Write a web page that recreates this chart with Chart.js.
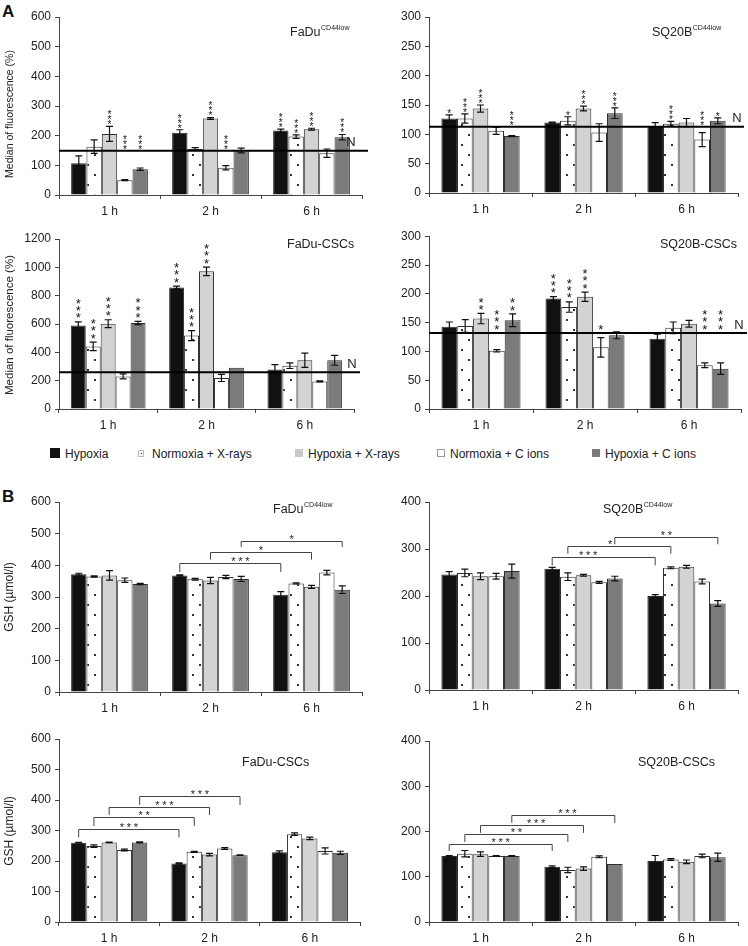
<!DOCTYPE html>
<html><head><meta charset="utf-8">
<script src="https://cdn.jsdelivr.net/npm/chart.js@4/dist/chart.umd.min.js"></script>
<style>
body{margin:0;background:#fff;width:748px;height:946px;position:relative;overflow:hidden;font-family:"Liberation Sans",Arial,Helvetica,sans-serif;color:#222;}
canvas{position:absolute;}
.lbl{position:absolute;font-weight:bold;font-size:17px;line-height:1;color:#111;}
.sw{position:absolute;box-sizing:border-box;}
.lt{position:absolute;font-size:12px;line-height:14px;white-space:nowrap;color:#222;}
</style></head>
<body>
<div class="lbl" style="left:2px;top:3px">A</div>
<div class="lbl" style="left:2px;top:488px">B</div>
<script>
const FONT = '"Liberation Sans", Arial, Helvetica, sans-serif';
Chart.defaults.font.family = FONT;

// ---------- shared ----------
const categories = ['1 h', '2 h', '6 h'];
const seriesNames = ['Hypoxia', 'Normoxia + X-rays', 'Hypoxia + X-rays', 'Normoxia + C ions', 'Hypoxia + C ions'];

// ---------- A : median of fluorescence (%) ----------
// rows follow seriesNames, columns follow categories
const fluoFaDuLow_values = [[107, 210, 217], [163, 155, 197], [206, 258, 222], [50, 92, 141], [87, 150, 195]];
const fluoFaDuLow_errors = [[25, 10, 5], [23, 5, 6], [25, 3, 3], [2, 7, 14], [4, 8, 9]];
const fluoFaDuLow_stars  = [[0, 3, 3], [0, 0, 3], [3, 3, 3], [3, 3, 0], [3, 0, 3]];
const fluoFaDuLow_N = 149;
const fluoFaDuLow_ticks = [0, 100, 200, 300, 400, 500, 600];

const fluoSQ20BLow_values = [[127, 120, 114], [127, 123, 118], [144, 144, 120], [106, 103, 91], [97, 136, 123]];
const fluoSQ20BLow_errors = [[6, 1, 6], [8, 7, 4], [6, 4, 7], [6, 15, 12], [1, 9, 5]];
const fluoSQ20BLow_stars  = [[1, 0, 0], [3, 1, 3], [3, 3, 0], [0, 0, 3], [3, 3, 1]];
const fluoSQ20BLow_N = 113;
const fluoSQ20BLow_ticks = [0, 50, 100, 150, 200, 250, 300];

const fluoFaDuCSC_values = [[590, 858, 278], [442, 518, 306], [602, 972, 344], [230, 219, 195], [607, 292, 344]];
const fluoFaDuCSC_errors = [[25, 10, 35], [30, 35, 20], [28, 30, 50], [18, 25, 4], [12, 0, 35]];
const fluoFaDuCSC_stars  = [[3, 3, 0], [3, 3, 0], [3, 3, 0], [0, 0, 0], [3, 0, 0]];
const fluoFaDuCSC_N = 259;
const fluoFaDuCSC_ticks = [0, 200, 400, 600, 800, 1000, 1200];

const fluoSQ20BCSC_values = [[143, 192, 122], [144, 177, 141], [157, 195, 148], [101, 107, 76], [154, 128, 70]];
const fluoSQ20BCSC_errors = [[8, 3, 8], [11, 9, 10], [9, 8, 6], [2, 17, 4], [11, 6, 10]];
const fluoSQ20BCSC_stars  = [[0, 3, 0], [0, 3, 0], [2, 3, 0], [3, 1, 3], [2, 0, 3]];
const fluoSQ20BCSC_N = 132;
const fluoSQ20BCSC_ticks = [0, 50, 100, 150, 200, 250, 300];

// ---------- B : GSH (µmol/l) ----------
const gshFaDuLow_values = [[372, 368, 307], [365, 356, 343], [368, 352, 332], [353, 363, 377], [341, 357, 323]];
const gshFaDuLow_errors = [[3, 2, 10], [2, 3, 2], [15, 10, 5], [7, 5, 7], [2, 8, 12]];
const gshFaDuLow_brackets = [
  {fromCat: 1, fromSeries: 0, toCat: 2, toSeries: 0, at: 407, leg: 379, label: '***', pos: 0.6},
  {fromCat: 1, fromSeries: 2, toCat: 2, toSeries: 2, at: 442, leg: 418, label: '*', pos: 0.5},
  {fromCat: 1, fromSeries: 4, toCat: 2, toSeries: 4, at: 477, leg: 458, label: '*', pos: 0.5}
];
const gshFaDuLow_ticks = [0, 100, 200, 300, 400, 500, 600];

const gshSQ20BLow_values = [[246, 258, 200], [249, 241, 260], [242, 244, 262], [242, 229, 231], [253, 237, 184]];
const gshSQ20BLow_errors = [[6, 3, 3], [8, 8, 2], [7, 2, 3], [6, 2, 5], [15, 5, 6]];
const gshSQ20BLow_brackets = [
  {fromCat: 1, fromSeries: 0, toCat: 2, toSeries: 0, at: 283, leg: 265, label: '***', pos: 0.35},
  {fromCat: 1, fromSeries: 1, toCat: 2, toSeries: 1, at: 307, leg: 290, label: '*', pos: 0.41},
  {fromCat: 1, fromSeries: 4, toCat: 2, toSeries: 4, at: 326, leg: 310, label: '**', pos: 0.5}
];
const gshSQ20BLow_ticks = [0, 100, 200, 300, 400];

const gshFaDuCSC_values = [[260, 192, 229], [249, 230, 288], [261, 221, 274], [236, 241, 233], [261, 219, 227]];
const gshFaDuCSC_errors = [[1, 2, 4], [4, 2, 4], [1, 4, 4], [3, 3, 10], [2, 1, 5]];
const gshFaDuCSC_brackets = [
  {fromCat: 0, fromSeries: 0, toCat: 1, toSeries: 0, at: 305, leg: 277, label: '***', pos: 0.5},
  {fromCat: 0, fromSeries: 1, toCat: 1, toSeries: 1, at: 343, leg: 315, label: '**', pos: 0.5},
  {fromCat: 0, fromSeries: 2, toCat: 1, toSeries: 2, at: 378, leg: 351, label: '***', pos: 0.55},
  {fromCat: 0, fromSeries: 4, toCat: 1, toSeries: 4, at: 413, leg: 384, label: '***', pos: 0.6}
];
const gshFaDuCSC_ticks = [0, 100, 200, 300, 400, 500, 600];

const gshSQ20BCSC_values = [[146, 122, 135], [151, 115, 138], [150, 118, 133], [146, 144, 146], [146, 128, 143]];
const gshSQ20BCSC_errors = [[1, 2, 12], [7, 6, 2], [5, 4, 4], [1, 2, 4], [1, 0, 9]];
const gshSQ20BCSC_brackets = [
  {fromCat: 0, fromSeries: 0, toCat: 1, toSeries: 0, at: 172, leg: 157, label: '***', pos: 0.5},
  {fromCat: 0, fromSeries: 1, toCat: 1, toSeries: 1, at: 194, leg: 177, label: '**', pos: 0.5},
  {fromCat: 0, fromSeries: 2, toCat: 1, toSeries: 2, at: 214, leg: 197, label: '***', pos: 0.54},
  {fromCat: 0, fromSeries: 4, toCat: 1, toSeries: 4, at: 237, leg: 219, label: '***', pos: 0.54}
];
const gshSQ20BCSC_ticks = [0, 100, 200, 300, 400];

// ---------- styles ----------
function dotPattern() {
  const c = document.createElement('canvas'); c.width = 14; c.height = 20;
  const g = c.getContext('2d');
  g.fillStyle = '#fff'; g.fillRect(0, 0, 14, 20);
  g.fillStyle = '#333'; g.fillRect(3, 4, 2, 2); g.fillRect(10, 14, 2, 2);
  return g.createPattern(c, 'repeat');
}
const fills = ['#111111', dotPattern(), '#d3d3d3', '#ffffff', '#7b7b7b'];

// ---------- panels (layout in page pixels) ----------
const panels = [
  {key: 'a1', left: 0, top: 0, w: 374, h: 225, yW: 59, xH: 30, padTop: 17, padRight: 12,
   values: fluoFaDuLow_values, errors: fluoFaDuLow_errors, stars: fluoFaDuLow_stars, N: fluoFaDuLow_N, ticks: fluoFaDuLow_ticks,
   starsAboveN: true, starFont: 10, starGap: 4, starStep: 5, nDx: -11,
   title: 'FaDu', sup: 'CD44low', titleX: 290, titleY: 33,
   yTitle: 'Median of fluorescence (%)', yTitleX: 10, yTitleY: 114, yTitleSize: 10.5},
  {key: 'a2', left: 374, top: 0, w: 374, h: 223, yW: 55, xH: 30, padTop: 17, padRight: 10,
   values: fluoSQ20BLow_values, errors: fluoSQ20BLow_errors, stars: fluoSQ20BLow_stars, N: fluoSQ20BLow_N, ticks: fluoSQ20BLow_ticks,
   starsAboveN: true, starFont: 10, starGap: 4, starStep: 5, nDx: -1,
   title: 'SQ20B', sup: 'CD44low', titleX: 278, titleY: 33},
  {key: 'a3', left: 0, top: 225, w: 374, h: 214, yW: 59, xH: 30, padTop: 14, padRight: 20,
   values: fluoFaDuCSC_values, errors: fluoFaDuCSC_errors, stars: fluoFaDuCSC_stars, N: fluoFaDuCSC_N, ticks: fluoFaDuCSC_ticks,
   starsAboveN: false, starFont: 13, starGap: 7, starStep: 7.3, nDx: -2,
   title: 'FaDu-CSCs', titleX: 287, titleY: 20,
   yTitle: 'Median of fluorescence (%)', yTitleX: 10, yTitleY: 100, yTitleSize: 11.5},
  {key: 'a4', left: 374, top: 225, w: 374, h: 214, yW: 55, xH: 30, padTop: 8, padRight: 7,
   values: fluoSQ20BCSC_values, errors: fluoSQ20BCSC_errors, stars: fluoSQ20BCSC_stars, N: fluoSQ20BCSC_N, ticks: fluoSQ20BCSC_ticks,
   starsAboveN: true, starFont: 13, starGap: 7, starStep: 7.3, nDx: -2,
   title: 'SQ20B-CSCs', titleX: 286, titleY: 20},
  {key: 'b1', left: 0, top: 480, w: 374, h: 242, yW: 59, xH: 30, padTop: 22, padRight: 12,
   values: gshFaDuLow_values, errors: gshFaDuLow_errors, brackets: gshFaDuLow_brackets, ticks: gshFaDuLow_ticks,
   title: 'FaDu', sup: 'CD44low', titleX: 273, titleY: 30,
   yTitle: 'GSH (\u00b5mol/l)', yTitleX: 10, yTitleY: 117, yTitleSize: 12},
  {key: 'b2', left: 374, top: 480, w: 374, h: 240, yW: 55, xH: 30, padTop: 22, padRight: 10,
   values: gshSQ20BLow_values, errors: gshSQ20BLow_errors, brackets: gshSQ20BLow_brackets, ticks: gshSQ20BLow_ticks,
   title: 'SQ20B', sup: 'CD44low', titleX: 229, titleY: 30},
  {key: 'b3', left: 0, top: 722, w: 374, h: 224, yW: 59, xH: 24, padTop: 17, padRight: 14,
   values: gshFaDuCSC_values, errors: gshFaDuCSC_errors, brackets: gshFaDuCSC_brackets, ticks: gshFaDuCSC_ticks,
   title: 'FaDu-CSCs', titleX: 242, titleY: 41,
   yTitle: 'GSH (\u00b5mol/l)', yTitleX: 10, yTitleY: 109, yTitleSize: 12},
  {key: 'b4', left: 374, top: 722, w: 374, h: 224, yW: 55, xH: 24, padTop: 19, padRight: 10,
   values: gshSQ20BCSC_values, errors: gshSQ20BCSC_errors, brackets: gshSQ20BCSC_brackets, ticks: gshSQ20BCSC_ticks,
   title: 'SQ20B-CSCs', titleX: 264, titleY: 41}
];

function star(ctx, x, cy, size) {
  ctx.font = size + 'px ' + FONT;
  ctx.textAlign = 'center'; ctx.textBaseline = 'alphabetic';
  ctx.fillText('*', x, cy + size * 0.58);
}

function overlay(P) {
  return {
    id: 'overlay_' + P.key,
    afterDatasetsDraw(chart) {
      const ctx = chart.ctx, ys = chart.scales.y, area = chart.chartArea;
      ctx.save();
      // error bars
      ctx.strokeStyle = '#111'; ctx.lineWidth = 1.2;
      P.values.forEach((row, di) => {
        const meta = chart.getDatasetMeta(di);
        row.forEach((v, ci) => {
          const e = P.errors[di][ci]; if (!e) return;
          const x = meta.data[ci].x;
          const t = ys.getPixelForValue(v + e), b = ys.getPixelForValue(Math.max(0, v - e));
          ctx.beginPath();
          ctx.moveTo(x, t); ctx.lineTo(x, b);
          ctx.moveTo(x - 3.5, t); ctx.lineTo(x + 3.5, t);
          ctx.moveTo(x - 3.5, b); ctx.lineTo(x + 3.5, b);
          ctx.stroke();
        });
      });
      // N line
      if (P.N != null) {
        const y = ys.getPixelForValue(P.N);
        ctx.strokeStyle = '#000'; ctx.lineWidth = 2;
        ctx.beginPath(); ctx.moveTo(area.left, y); ctx.lineTo(area.right + 6, y); ctx.stroke();
        ctx.fillStyle = '#222'; ctx.font = '13px ' + FONT; ctx.textAlign = 'center'; ctx.textBaseline = 'middle';
        ctx.fillText('N', area.right + P.nDx, y - 8);
      }
      // significance stars
      if (P.stars) {
        ctx.fillStyle = '#111';
        P.stars.forEach((row, di) => {
          const meta = chart.getDatasetMeta(di);
          row.forEach((n, ci) => {
            if (!n) return;
            let base = P.values[di][ci] + (P.errors[di][ci] || 0);
            if (P.starsAboveN && P.N > base) base = P.N;
            const py = ys.getPixelForValue(base);
            for (let k = 0; k < n; k++) star(ctx, meta.data[ci].x, py - P.starGap - k * P.starStep, P.starFont);
          });
        });
      }
      // brackets
      (P.brackets || []).forEach(b => {
        const x1 = chart.getDatasetMeta(b.fromSeries).data[b.fromCat].x;
        const x2 = chart.getDatasetMeta(b.toSeries).data[b.toCat].x;
        const yl = Math.round(ys.getPixelForValue(b.at)) + 0.5, yg = ys.getPixelForValue(b.leg);
        ctx.strokeStyle = '#444'; ctx.lineWidth = 1;
        ctx.beginPath(); ctx.moveTo(x1, yg); ctx.lineTo(x1, yl); ctx.lineTo(x2, yl); ctx.lineTo(x2, yg); ctx.stroke();
        ctx.fillStyle = '#222';
        const cx = x1 + (x2 - x1) * b.pos, n = b.label.length;
        for (let k = 0; k < n; k++) star(ctx, cx + (k - (n - 1) / 2) * 7, yl - 5, 11);
      });
      ctx.restore();
    },
    afterDraw(chart) {
      const ctx = chart.ctx;
      ctx.save();
      ctx.fillStyle = '#222';
      ctx.font = '12.5px ' + FONT; ctx.textAlign = 'left'; ctx.textBaseline = 'middle';
      ctx.fillText(P.title, P.titleX, P.titleY);
      if (P.sup) {
        const w = ctx.measureText(P.title).width;
        ctx.font = '7px ' + FONT;
        ctx.fillText(P.sup, P.titleX + w + 0.5, P.titleY - 5);
      }
      if (P.yTitle) {
        ctx.translate(P.yTitleX, P.yTitleY); ctx.rotate(-Math.PI / 2);
        ctx.font = P.yTitleSize + 'px ' + FONT; ctx.textAlign = 'center'; ctx.textBaseline = 'middle';
        ctx.fillText(P.yTitle, 0, 0);
      }
      ctx.restore();
    }
  };
}

function makeChart(P) {
  const cv = document.createElement('canvas');
  cv.width = P.w; cv.height = P.h;
  cv.style.left = P.left + 'px'; cv.style.top = P.top + 'px';
  cv.style.width = P.w + 'px'; cv.style.height = P.h + 'px';
  document.body.appendChild(cv);
  const datasets = seriesNames.map((name, i) => ({
    label: name, data: P.values[i], backgroundColor: fills[i],
    borderColor: '#2e2e2e', borderWidth: 1
  }));
  const axisColor = '#444';
  new Chart(cv, {
    type: 'bar',
    data: {labels: categories, datasets},
    options: {
      responsive: false, animation: false, devicePixelRatio: 1,
      layout: {padding: {top: P.padTop, right: P.padRight, left: 0, bottom: 0}},
      plugins: {legend: {display: false}, tooltip: {enabled: false}, title: {display: false}},
      datasets: {bar: {categoryPercentage: 0.76, barPercentage: 1}},
      scales: {
        x: {
          grid: {display: true, drawOnChartArea: false, drawTicks: true, tickLength: 4, color: axisColor, offset: true},
          border: {display: true, color: axisColor, width: 1},
          ticks: {color: '#222', font: {size: 12}, padding: 5, maxRotation: 0},
          afterFit: s => { s.height = P.xH; }
        },
        y: {
          min: P.ticks[0], max: P.ticks[P.ticks.length - 1],
          afterBuildTicks: s => { s.ticks = P.ticks.map(v => ({value: v})); },
          grid: {display: true, drawOnChartArea: false, drawTicks: true, tickLength: 4, color: axisColor},
          border: {display: true, color: axisColor, width: 1},
          ticks: {color: '#222', font: {size: 12}, padding: 4, callback: v => String(v)},
          afterFit: s => { s.width = P.yW; }
        }
      }
    },
    plugins: [overlay(P)]
  });
}
panels.forEach(makeChart);

// ---------- legend ----------
const legendX = [[50, 65], [138, 152], [295, 308], [437, 450], [592, 605]];
const legendSwatch = [
  {w: 10, h: 10, bg: '#111', border: 'none'},
  {w: 6, h: 7, bg: '#fff', border: '1px solid #bbb', dot: true},
  {w: 8, h: 8, bg: '#c9c9c9', border: 'none'},
  {w: 8, h: 8, bg: '#fff', border: '1px solid #999'},
  {w: 8, h: 8, bg: '#7b7b7b', border: 'none'}
];
seriesNames.forEach((name, i) => {
  const s = legendSwatch[i];
  const sw = document.createElement('div');
  sw.className = 'sw';
  sw.style.left = legendX[i][0] + 'px';
  sw.style.top = (453 - s.h / 2) + 'px';
  sw.style.width = s.w + 'px'; sw.style.height = s.h + 'px';
  sw.style.background = s.bg; sw.style.border = s.border;
  if (s.dot) {
    const d = document.createElement('div');
    d.style.cssText = 'position:absolute;left:1.5px;top:2px;width:1.5px;height:1.5px;background:#333';
    sw.appendChild(d);
  }
  document.body.appendChild(sw);
  const t = document.createElement('div');
  t.className = 'lt';
  t.style.left = legendX[i][1] + 'px';
  t.style.top = '447px';
  t.textContent = name;
  document.body.appendChild(t);
});
</script>
</body></html>
